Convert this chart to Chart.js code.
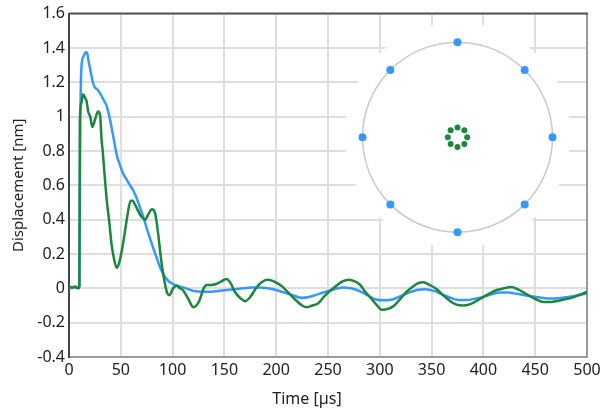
<!DOCTYPE html>
<html>
<head>
<meta charset="utf-8">
<script src="https://cdn.jsdelivr.net/npm/chart.js@4.4.1/dist/chart.umd.min.js"></script>
<style>
  html, body { margin: 0; padding: 0; background: #fff; }
</style>
</head>
<body>
<canvas id="chart" width="608" height="412"></canvas>
<script>
// === Axis ticks
const xTicks = [0, 50, 100, 150, 200, 250, 300, 350, 400, 450, 500];
const yTicks = [-0.4, -0.2, 0, 0.2, 0.4, 0.6, 0.8, 1, 1.2, 1.4, 1.6];

// === Green trace (center sensor ring)
const greenTime = [0, 3, 6, 9, 10, 10.5, 12, 13.5, 15.5, 17, 18.5, 20.5, 22.5, 25, 28, 30, 31.5, 32.5, 34.5, 36.5,
  39, 41, 43.5, 46, 48.5, 51, 53.5, 56, 59.5, 61.5, 63.5, 66, 68.5, 71, 73.5, 76.5, 80, 83, 86, 89.5,
  92.5, 95, 97, 100.5, 104, 107, 110, 115, 120, 123, 126, 130, 133, 138, 142, 147, 152, 156, 160, 165,
  170, 175, 181, 186, 191, 196, 201, 206, 210, 215, 220, 225, 230, 235, 240, 246, 252, 258, 264, 270,
  276, 281, 286, 291, 296, 302, 308, 314, 320, 326, 332, 337, 342, 348, 355, 361, 368, 374, 380, 386,
  393, 400, 406, 413, 420, 427, 433, 439, 445, 451, 458, 464, 470, 476, 482, 488, 494, 500];
const greenDisp = [0.01, 0.005, 0.01, 0.0, 0.01, 0.98, 1.08, 1.13, 1.11, 1.09, 1.03, 1.0, 0.94, 0.98, 1.03, 1.01, 0.86, 0.80, 0.65, 0.51,
  0.38, 0.26, 0.17, 0.12, 0.15, 0.22, 0.31, 0.41, 0.51, 0.51, 0.49, 0.46, 0.43, 0.41, 0.40, 0.43, 0.46, 0.44, 0.32, 0.14,
  0.03, -0.03, -0.04, 0.0, 0.015, 0.0, -0.01, -0.06, -0.11, -0.10, -0.07, 0.0, 0.02, 0.02, 0.025, 0.04, 0.055, 0.03, -0.02, -0.055,
  -0.075, -0.05, 0.005, 0.035, 0.05, 0.045, 0.03, 0.01, -0.015, -0.045, -0.075, -0.1, -0.11, -0.1, -0.09, -0.05, -0.015, 0.015, 0.04, 0.05,
  0.04, 0.02, -0.02, -0.055, -0.09, -0.125, -0.12, -0.1, -0.06, -0.02, 0.01, 0.03, 0.035, 0.02, -0.005, -0.04, -0.075, -0.095, -0.1, -0.095,
  -0.075, -0.05, -0.03, -0.01, 0.0, 0.008, -0.005, -0.025, -0.045, -0.065, -0.08, -0.08, -0.075, -0.068, -0.06, -0.05, -0.035, -0.02];

// === Blue trace (outer sensor ring)
const blueTime = [0, 5, 9, 10, 10.8, 11.5, 12.5, 14, 16, 17.5, 19, 21, 23, 25, 27, 29, 31.5, 34, 36.5, 39,
  41, 43.5, 46, 49, 52.5, 56, 59, 62, 65, 68, 71.5, 75, 78, 81, 84.5, 88, 91, 94, 97.5, 102,
  107, 113, 120, 128, 136, 144, 152, 160, 168, 176, 184, 192, 200, 208, 216, 224, 232, 240, 248, 256,
  264, 272, 280, 288, 296, 304, 312, 320, 328, 336, 344, 352, 360, 368, 376, 384, 392, 400, 408, 416,
  424, 432, 440, 448, 456, 464, 472, 480, 488, 496, 500];
const blueDisp = [0.0, 0.005, 0.0, 0.01, 0.9, 1.2, 1.32, 1.35, 1.375, 1.37, 1.32, 1.26, 1.2, 1.17, 1.16, 1.145, 1.12, 1.09, 1.06, 1.0,
  0.94, 0.86, 0.78, 0.72, 0.665, 0.63, 0.6, 0.57, 0.53, 0.48, 0.42, 0.35, 0.295, 0.24, 0.18, 0.12, 0.085, 0.055, 0.035, 0.02,
  0.01, 0.0, -0.015, -0.02, -0.02, -0.015, -0.01, -0.005, 0.0, 0.005, 0.005, 0.0, -0.01, -0.025, -0.04, -0.055, -0.05, -0.035, -0.02, -0.005,
  0.005, 0.0, -0.015, -0.04, -0.065, -0.07, -0.065, -0.045, -0.025, -0.01, -0.005, -0.015, -0.035, -0.055, -0.068, -0.068, -0.06, -0.05, -0.035, -0.025,
  -0.025, -0.032, -0.04, -0.048, -0.055, -0.06, -0.058, -0.052, -0.045, -0.035, -0.028];

// === Inset sketch (sensor layout), anchored in data units
const insetCenter = [375, 0.88];
const outerDots = 8;
const innerDots = 8;

const BLUE = "#3399ff";
const GREEN = "#1a873c";
const TEXT = "#222";
const FONT = "'Noto Sans', 'Open Sans', sans-serif";
const xTitle = "Time [µs]";

function dot(ctx, x, y, r, color) {
  ctx.fillStyle = color;
  ctx.beginPath();
  ctx.arc(x, y, r, 0, Math.PI * 2);
  ctx.fill();
}

const extras = {
  id: "extras",
  beforeDatasetsDraw(chart) {
    const { ctx, chartArea: a, scales: { x, y } } = chart;
    const cx = x.getPixelForValue(insetCenter[0]);
    const cy = y.getPixelForValue(insetCenter[1]);
    ctx.save();
    // white backdrop hides the grid behind the sketch
    ctx.fillStyle = "#fff";
    ctx.beginPath();
    ctx.arc(cx, cy - 2, 113, 0, Math.PI * 2);
    ctx.fill();
    ctx.strokeStyle = "#c8c8c8";
    ctx.lineWidth = 1.5;
    ctx.beginPath();
    ctx.arc(cx, cy, 95, 0, Math.PI * 2);
    ctx.stroke();
    for (let i = 0; i < outerDots; i++) {
      const ang = i * 2 * Math.PI / outerDots;
      dot(ctx, cx + 95 * Math.cos(ang), cy + 95 * Math.sin(ang), 4, BLUE);
    }
    for (let i = 0; i < innerDots; i++) {
      const ang = i * 2 * Math.PI / innerDots;
      dot(ctx, cx + 9.7 * Math.cos(ang), cy + 9.7 * Math.sin(ang), 3, GREEN);
    }
    // top and right frame
    ctx.lineWidth = 2;
    ctx.strokeStyle = "#9a9a9a";
    ctx.beginPath();
    ctx.moveTo(a.right, a.top);
    ctx.lineTo(a.right, a.bottom);
    ctx.stroke();
    ctx.strokeStyle = "#555";
    ctx.beginPath();
    ctx.moveTo(a.left, a.top);
    ctx.lineTo(a.right + 1, a.top);
    ctx.stroke();
    ctx.restore();
  },
  afterDraw(chart) {
    // x title sits centred on the whole figure, not on the plot
    const { ctx, width } = chart;
    ctx.save();
    ctx.fillStyle = TEXT;
    ctx.font = "16px " + FONT;
    ctx.textAlign = "center";
    ctx.textBaseline = "middle";
    ctx.fillText(xTitle, width / 2 + 3, 399);
    ctx.restore();
  }
};

new Chart(document.getElementById("chart"), {
  type: "line",
  data: {
    datasets: [
      {
        data: greenTime.map((t, i) => ({ x: t, y: greenDisp[i] })),
        borderColor: GREEN,
        borderWidth: 2.5,
        pointRadius: 0,
        cubicInterpolationMode: "monotone"
      },
      {
        data: blueTime.map((t, i) => ({ x: t, y: blueDisp[i] })),
        borderColor: BLUE,
        borderWidth: 2.5,
        pointRadius: 0,
        cubicInterpolationMode: "monotone"
      }
    ]
  },
  options: {
    responsive: false,
    animation: false,
    layout: { padding: { top: 12, right: 21, left: 0, bottom: 0 } },
    plugins: { legend: { display: false }, tooltip: { enabled: false } },
    scales: {
      x: {
        type: "linear",
        min: 0,
        max: 500,
        afterBuildTicks: s => { s.ticks = xTicks.map(v => ({ value: v })); },
        afterFit: s => { s.height = 55; },
        ticks: { color: TEXT, font: { family: FONT, size: 16 }, padding: 4, maxRotation: 0 },
        grid: { color: "#dedede", lineWidth: 2, drawTicks: false },
        border: { color: "#9a9a9a", width: 2 }
      },
      y: {
        min: -0.4,
        max: 1.6,
        afterBuildTicks: s => { s.ticks = yTicks.map(v => ({ value: v })); },
        afterFit: s => { s.width = 69; },
        ticks: { color: TEXT, font: { family: FONT, size: 16 }, padding: 4, callback: v => String(v) },
        grid: { color: "#dedede", lineWidth: 2, drawTicks: false },
        border: { color: "#444", width: 2 },
        title: { display: true, text: "Displacement [nm]", color: TEXT, font: { family: FONT, size: 15 }, padding: { top: 10, bottom: 0 } }
      }
    }
  },
  plugins: [extras]
});
</script>
</body>
</html>
